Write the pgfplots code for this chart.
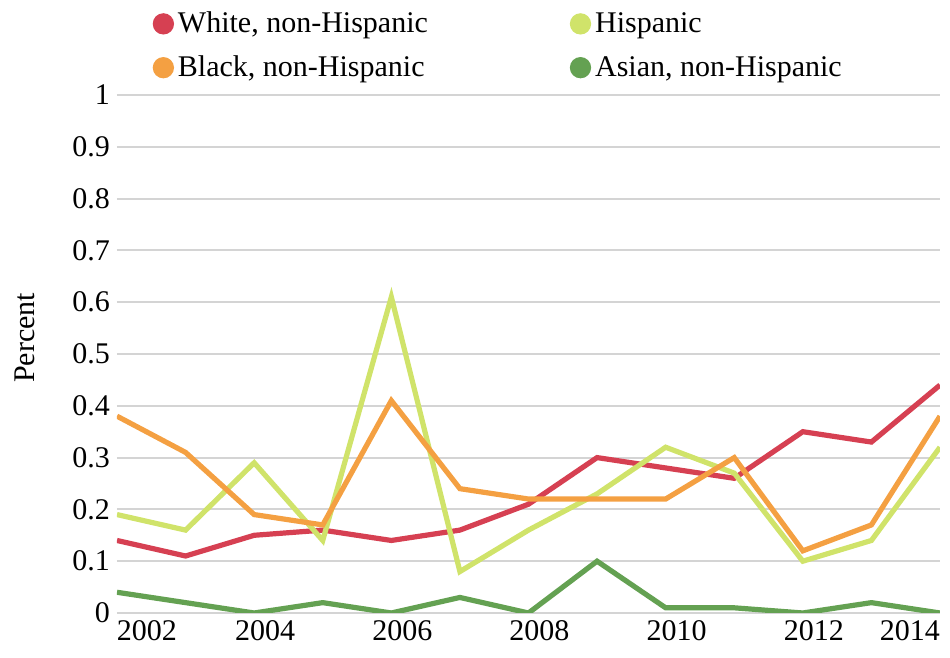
\documentclass[border=0pt]{standalone}
\usepackage{fontspec}
\setmainfont{Liberation Serif}
\usepackage{pgfplots}
\pgfplotsset{compat=1.18}
\definecolor{cwhite}{RGB}{214,64,82}
\definecolor{cblack}{RGB}{244,160,66}
\definecolor{chisp}{RGB}{208,227,106}
\definecolor{casian}{RGB}{100,161,82}
\definecolor{cgrid}{RGB}{212,212,212}
\begin{document}
\begin{tikzpicture}[font=\fontsize{15}{18}\selectfont]
\useasboundingbox (0,0) rectangle (475pt,329pt);
\begin{axis}[
  at={(58.5pt,22.5pt)}, anchor=south west,
  scale only axis, width=411.5pt, height=259pt,
  xmin=2002, xmax=2014, ymin=0, ymax=1,
  xtick={2002,2004,...,2014},
  xticklabels={\makebox[0pt][l]{2002},\hspace{11pt}2004,\hspace{11pt}2006,\hspace{11pt}2008,\hspace{11pt}2010,\hspace{11pt}2012,\makebox[0pt][r]{2014}},
  ytick={0,0.1,...,1.01},
  /pgf/number format/assume math mode=true,
  yticklabel style={/pgf/number format/.cd, fixed, precision=1},
  major tick length=0pt,
  axis line style={draw=none},
  xmajorgrids=false, ymajorgrids=true, grid style={cgrid, line width=1pt},
  ylabel={Percent},
  ylabel style={at={(axis description cs:-0.112,0.531)}, anchor=center},
  legend columns=2,
  legend style={at={(axis description cs:0.0357,1.0)}, anchor=south west, draw=none, fill=none,
    yshift=3.5pt, cells={anchor=west}, row sep=6pt,
    /tikz/every even column/.append style={column sep=69pt}},
  legend image code/.code={\fill[#1] (4pt,0pt) circle (4pt);},
  every axis plot/.append style={line width=2.6pt, line join=miter},
]
\addplot[cwhite] coordinates {(2002,0.14)(2003,0.11)(2004,0.15)(2005,0.16)(2006,0.14)(2007,0.16)(2008,0.21)(2009,0.30)(2010,0.28)(2011,0.26)(2012,0.35)(2013,0.33)(2014,0.44)};
\addlegendentry{White, non-Hispanic}
\addplot[chisp] coordinates {(2002,0.19)(2003,0.16)(2004,0.29)(2005,0.14)(2006,0.61)(2007,0.08)(2008,0.16)(2009,0.23)(2010,0.32)(2011,0.27)(2012,0.10)(2013,0.14)(2014,0.32)};
\addlegendentry{Hispanic}
\addplot[cblack] coordinates {(2002,0.38)(2003,0.31)(2004,0.19)(2005,0.17)(2006,0.41)(2007,0.24)(2008,0.22)(2009,0.22)(2010,0.22)(2011,0.30)(2012,0.12)(2013,0.17)(2014,0.38)};
\addlegendentry{Black, non-Hispanic}
\addplot[casian] coordinates {(2002,0.04)(2003,0.02)(2004,0.00)(2005,0.02)(2006,0.00)(2007,0.03)(2008,0.00)(2009,0.10)(2010,0.01)(2011,0.01)(2012,0.00)(2013,0.02)(2014,0.00)};
\addlegendentry{Asian, non-Hispanic}
\end{axis}
\end{tikzpicture}
\end{document}
